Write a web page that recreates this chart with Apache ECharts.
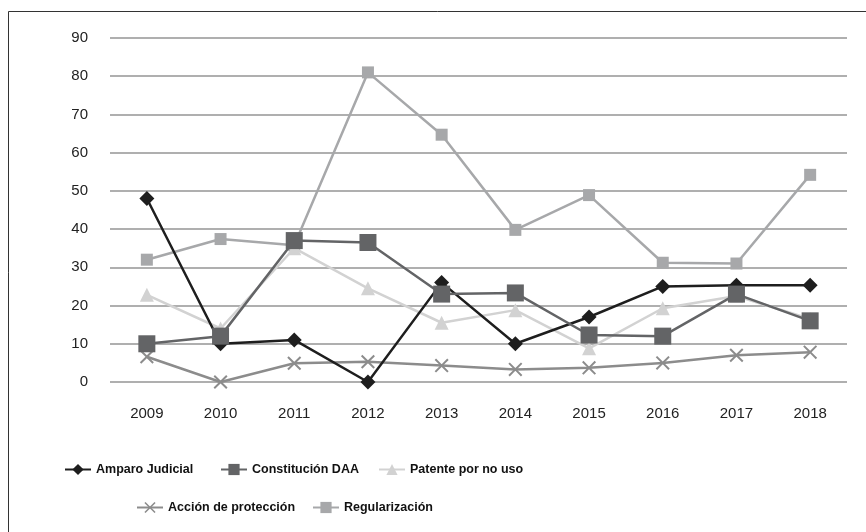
<!DOCTYPE html>
<html>
<head>
<meta charset="utf-8">
<script src="https://cdn.jsdelivr.net/npm/echarts@6/dist/echarts.min.js"></script>
<style>
  html, body { margin: 0; padding: 0; background: #fff; }
  #chart { width: 866px; height: 532px; }
</style>
</head>
<body>
<div id="chart"></div>
<script>
// years on the x axis
var years = ['2009', '2010', '2011', '2012', '2013', '2014', '2015', '2016', '2017', '2018'];

// series values
var amparoJudicial   = [48, 10, 11, 0, 26, 10, 17, 25, 25.3, 25.3];
var constitucionDAA  = [10, 12, 37, 36.5, 23, 23.3, 12.3, 12, 23, 16];
var patenteNoUso     = [22.8, 14, 35, 24.5, 15.5, 18.8, 8.8, 19.3, 22.5, 16.5];
var accionProteccion = [6.6, 0, 4.9, 5.3, 4.3, 3.3, 3.7, 5, 7, 7.8];
var regularizacion   = [32, 37.4, 35.8, 81, 64.7, 39.8, 48.9, 31.2, 31, 54.2];

var font = '"Liberation Sans", Arial, sans-serif';
var crossPath = 'path://M0,2L2,0L10,8L18,0L20,2L12,10L20,18L18,20L10,12L2,20L0,18L8,10Z';

var chart = echarts.init(document.getElementById('chart'));

function mkSeries(name, data, color, symbol, size, z) {
    return {
        name: name,
        type: 'line',
        data: data,
        z: z,
        symbol: symbol,
        symbolSize: size,
        showAllSymbol: true,
        lineStyle: { color: color, width: 2.5 },
        itemStyle: { color: color },
        emphasis: { disabled: true }
    };
}

// one legend per item so each can sit where it sits in the picture
function mkLegend(name, left, top) {
    return {
        data: [name],
        left: left,
        top: top,
        itemWidth: 26,
        itemHeight: 14,
        padding: 0,
        selectedMode: false,
        textStyle: { fontFamily: font, fontWeight: 'bold', fontSize: 12.5, color: '#111' }
    };
}

var option = {
    animation: false,
    backgroundColor: '#fff',
    graphic: [{
        type: 'rect',
        shape: { x: 8.5, y: 11.5, width: 900, height: 600 },
        style: { fill: 'none', stroke: '#333', lineWidth: 1 }
    }],
    grid: { left: 110, right: 19, top: 38, bottom: 150 },
    xAxis: {
        type: 'category',
        data: years,
        axisLine: { show: false },
        axisTick: { show: false },
        axisLabel: { margin: 24, fontFamily: font, fontSize: 15, color: '#222' }
    },
    yAxis: {
        type: 'value',
        min: 0,
        max: 90,
        interval: 10,
        axisLine: { show: false },
        axisTick: { show: false },
        axisLabel: { margin: 22, fontFamily: font, fontSize: 15, color: '#222' },
        splitLine: { lineStyle: { color: '#959595', width: 1.5 } }
    },
    legend: [
        mkLegend('Amparo Judicial', 64, 463),
        mkLegend('Constitución DAA', 220, 463),
        mkLegend('Patente por no uso', 378, 463),
        mkLegend('Acción de protección', 136, 501),
        mkLegend('Regularización', 312, 501)
    ],
    series: [
        mkSeries('Amparo Judicial', amparoJudicial, '#1e1e1e', 'diamond', 15, 4),
        mkSeries('Constitución DAA', constitucionDAA, '#636466', 'rect', 17, 5),
        mkSeries('Patente por no uso', patenteNoUso, '#d2d2d2', 'triangle', 14, 3),
        mkSeries('Acción de protección', accionProteccion, '#8c8c8c', crossPath, 14, 1),
        mkSeries('Regularización', regularizacion, '#a7a8aa', 'rect', 12, 2)
    ]
};

chart.setOption(option);
</script>
</body>
</html>
